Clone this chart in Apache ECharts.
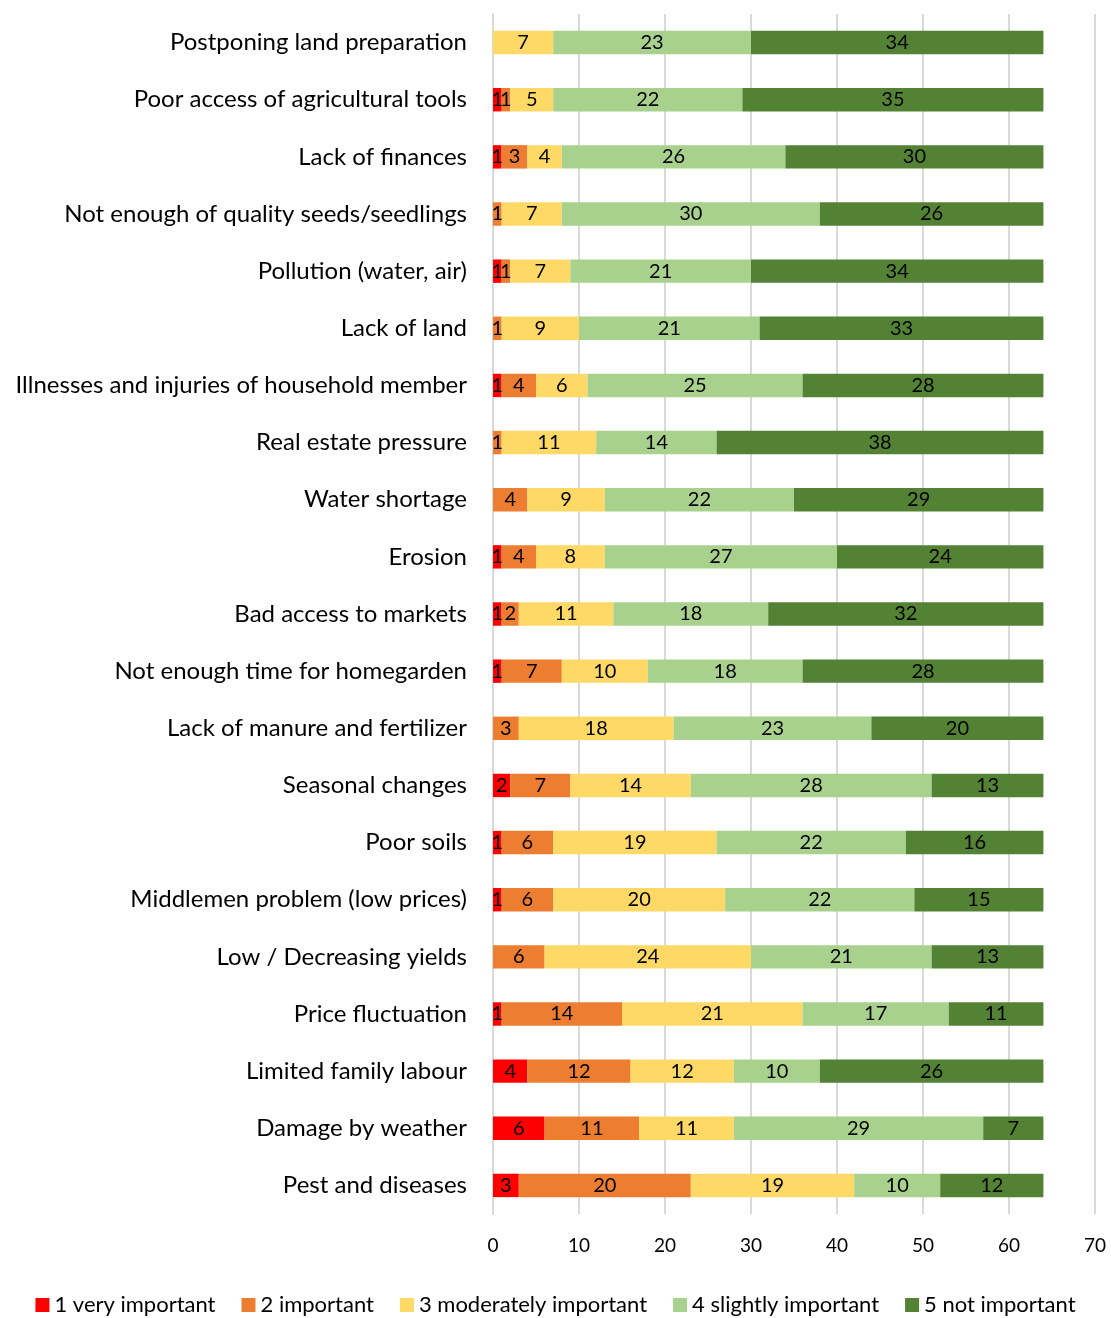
<!DOCTYPE html>
<html>
<head>
<meta charset="utf-8">
<script src="https://cdn.jsdelivr.net/npm/echarts@6/dist/echarts.min.js"></script>
<style>html,body{margin:0;padding:0;background:#fff;}#c{width:1111px;height:1318px;}</style>
</head>
<body>
<div id="c"></div>
<script>
const categories = [
  "Postponing land preparation",
  "Poor access of agricultural tools",
  "Lack of finances",
  "Not enough of quality seeds/seedlings",
  "Pollution (water, air)",
  "Lack of land",
  "Illnesses and injuries of household member",
  "Real estate pressure",
  "Water shortage",
  "Erosion",
  "Bad access to markets",
  "Not enough time for homegarden",
  "Lack of manure and fertilizer",
  "Seasonal changes",
  "Poor soils",
  "Middlemen problem (low prices)",
  "Low / Decreasing yields",
  "Price fluctuation",
  "Limited family labour",
  "Damage by weather",
  "Pest and diseases"
];
const seriesNames = ["1 very important", "2 important", "3 moderately important", "4 slightly important", "5 not important"];
const veryImportant =     [0,1,1,0,1,0,1,0,0,1,1,1,0,2,1,1,0,1,4,6,3];
const important =         [0,1,3,1,1,1,4,1,4,4,2,7,3,7,6,6,6,14,12,11,20];
const moderatelyImportant=[7,5,4,7,7,9,6,11,9,8,11,10,18,14,19,20,24,21,12,11,19];
const slightlyImportant = [23,22,26,30,21,21,25,14,22,27,18,18,23,28,22,22,21,17,10,29,10];
const notImportant =      [34,35,30,26,34,33,28,38,29,24,32,28,20,13,16,15,13,11,26,7,12];
const xTicks = [0,10,20,30,40,50,60,70];

const colors = ["#FF0000", "#ED7D31", "#FFD966", "#A9D18E", "#548235"];
const dataSets = [veryImportant, important, moderatelyImportant, slightlyImportant, notImportant];
const font = "Lato, 'Open Sans', sans-serif";

const chart = echarts.init(document.getElementById('c'));
chart.setOption({
  animation: false,
  color: colors,
  grid: {left: 493, right: 16, top: 14, bottom: 104, containLabel: false},
  legend: {
    bottom: -3, left: 'center', itemWidth: 14, itemHeight: 14, itemGap: 26,
    icon: 'rect',
    textStyle: {fontFamily: font, fontSize: 22, color: '#000'},
    data: seriesNames
  },
  xAxis: {
    type: 'value', min: xTicks[0], max: xTicks[xTicks.length-1], interval: 10,
    axisLine: {show: false}, axisTick: {show: false},
    splitLine: {show: true, lineStyle: {color: '#d9d9d9', width: 2}},
    axisLabel: {fontFamily: font, fontSize: 19, color: '#000', margin: 22}
  },
  yAxis: {
    type: 'category', inverse: true, data: categories,
    axisLine: {show: true, lineStyle: {color: '#d9d9d9', width: 2}},
    axisTick: {show: false},
    axisLabel: {fontFamily: font, fontSize: 24, color: '#000', margin: 26}
  },
  series: seriesNames.map((n, i) => ({
    name: n, type: 'bar', stack: 'total', barWidth: '41%',
    data: dataSets[i],
    itemStyle: {color: colors[i]},
    label: {
      show: true, position: 'inside', color: '#000', fontFamily: font, fontSize: 20,
      formatter: p => p.value === 0 ? '' : String(p.value)
    }
  }))
});
</script>
</body>
</html>
